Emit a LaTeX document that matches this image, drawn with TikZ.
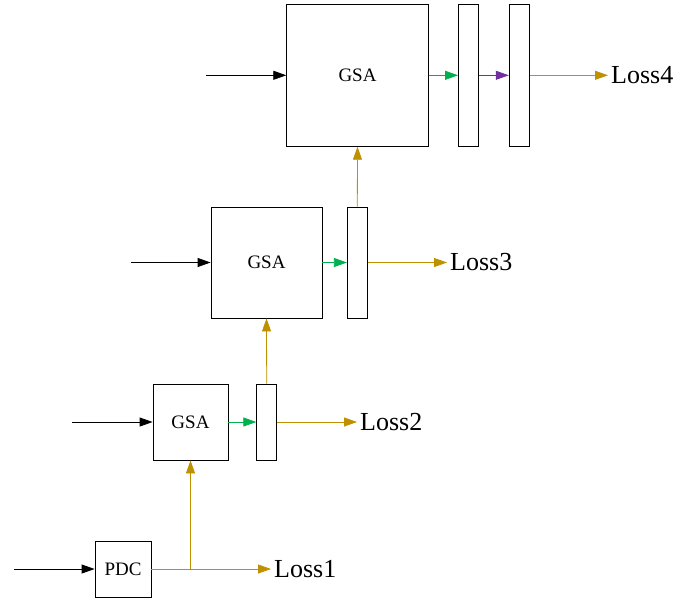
\documentclass[tikz,border=0pt]{standalone}
\usepackage{fontspec}
\setmainfont{Liberation Serif}
\usetikzlibrary{arrows.meta}
\definecolor{gold}{RGB}{191,144,0}
\definecolor{grn}{RGB}{0,176,80}
\definecolor{purp}{RGB}{112,48,160}
\begin{document}
\begin{tikzpicture}[x=1pt,y=-1pt,
  blk/.style={draw=black,line width=0.8pt,rectangle,inner sep=0pt,font=\fontsize{19}{19}\selectfont},
  lossl/.style={anchor=west,inner sep=3pt,font=\fontsize{26}{26}\selectfont},
  arr/.style={-{Triangle[length=13pt,width=9pt]},line width=0.8pt},
  inarr/.style={arr,draw=black},
  garr/.style={arr,draw=grn,fill=grn},
  parr/.style={arr,draw=purp,fill=purp},
  yarr/.style={arr,draw=gold,fill=gold},
  yline/.style={draw=gold,line width=0.8pt}]
\useasboundingbox (0,0) rectangle (700,600);
% boxes
\node[blk,minimum width=56pt,minimum height=56pt] (pdc) at (123,569) {PDC};
\node[blk,minimum width=75pt,minimum height=76pt] (gsa1) at (190.5,422) {GSA};
\node[blk,minimum width=20pt,minimum height=76pt] (t1) at (266.7,422) {};
\node[blk,minimum width=111pt,minimum height=111pt] (gsa2) at (266.5,262.5) {GSA};
\node[blk,minimum width=20pt,minimum height=111pt] (t2) at (357.3,262.5) {};
\node[blk,minimum width=141.6pt,minimum height=142pt] (gsa3) at (357.5,75.3) {GSA};
\node[blk,minimum width=20pt,minimum height=142pt] (t3) at (468.5,75.3) {};
\node[blk,minimum width=20pt,minimum height=142pt] (t4) at (519.2,75.3) {};
% loss labels
\node[lossl] (l1) at (271,569) {Loss1};
\node[lossl] (l2) at (357,422) {Loss2};
\node[lossl] (l3) at (447,262.5) {Loss3};
\node[lossl] (l4) at (608,75.3) {Loss4};
% inputs
\coordinate (i0) at (14,569);
\coordinate (i1) at (72,422);
\coordinate (i2) at (131,262.5);
\coordinate (i3) at (206,75.3);
\draw[inarr] (i0) -- (pdc.west);
\draw[inarr] (i1) -- (gsa1.west);
\draw[inarr] (i2) -- (gsa2.west);
\draw[inarr] (i3) -- (gsa3.west);
% green / purple
\draw[garr] (gsa1.east) -- (t1.west);
\draw[garr] (gsa2.east) -- (t2.west);
\draw[garr] (gsa3.east) -- (t3.west);
\draw[parr] (t3.east) -- (t4.west);
% gold
\coordinate (j) at (190.5,569);
\draw[yarr] (pdc.east) -- (l1.west);
\draw[yarr] (j) -- (gsa1.south);
\draw[yarr] (t1.east) -- (l2.west);
\draw[yarr] (t1.north) -- (gsa2.south);
\draw[yarr] (t2.east) -- (l3.west);
\draw[yarr] (t2.north) -- (gsa3.south);
\draw[yarr] (t4.east) -- (l4.west);
\end{tikzpicture}
\end{document}
